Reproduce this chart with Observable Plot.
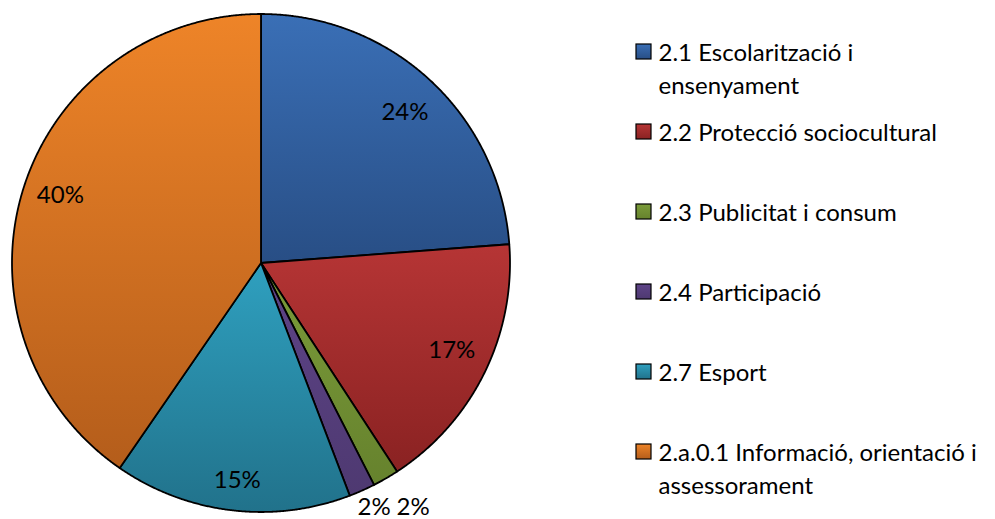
<!DOCTYPE html>
<html>
<head>
<meta charset="utf-8">
<script src="https://cdn.jsdelivr.net/npm/d3@7"></script>
<script src="https://cdn.jsdelivr.net/npm/@observablehq/plot@0.6"></script>
<style>
  body { margin: 0; background: #fff; }
  svg { display: block; }
</style>
</head>
<body>
<div id="chart"></div>
<script>
// ---- data ----
const categories = [
  "2.1 Escolarització i ensenyament",
  "2.2 Protecció sociocultural",
  "2.3 Publicitat i consum",
  "2.4 Participació",
  "2.7 Esport",
  "2.a.0.1 Informació, orientació i assessorament"
];
const values = [23.8, 17.0, 1.7, 1.7, 15.4, 40.4];

// ---- styles ----
const topColors    = ["#3a6fb6", "#b63535", "#7b9c3a", "#5e4488", "#2fa0bf", "#ee8428"];
const bottomColors = ["#284e85", "#8a2222", "#66822d", "#4e3971", "#21728b", "#b45d1b"];
const fontFamily = "Lato, 'Noto Sans', sans-serif";
const fontSize = 24;

// ---- layout ----
const W = 995, H = 519;
const cx = 260.5, cy = 262.5, R = 249;
const toX = p => (p - cx) / R;
const toY = p => (cy - p) / R;
// label placement: radius fraction and pixel nudges (layout only)
const labelRadius = [0.85, 0.85, 1.155, 1.09, 0.85, 0.85];
const labelNudge = [[0, 4.5], [1, -6], [8, -5], [3, -4], [1.5, 7.5], [1.5, -4.5]];

// ---- pie geometry (in data units, radius 1) ----
const total = d3.sum(values);
const arcs = d3.pie().sort(null).value(d => d)(values);
const step = Math.PI / 720;
const slices = arcs.map((a) => {
  const pts = [{x: 0, y: 0}];
  const n = Math.max(2, Math.ceil((a.endAngle - a.startAngle) / step));
  for (let k = 0; k <= n; k++) {
    const t = a.startAngle + (a.endAngle - a.startAngle) * k / n;
    pts.push({x: Math.sin(t), y: Math.cos(t)});
  }
  pts.push({x: 0, y: 0});
  return pts;
});

// percentage labels
const labels = arcs.map((a, i) => {
  const mid = (a.startAngle + a.endAngle) / 2;
  const pct = values[i] / total * 100;
  const r = labelRadius[i];
  return {
    x: r * Math.sin(mid) + labelNudge[i][0] / R,
    y: r * Math.cos(mid) - labelNudge[i][1] / R,
    text: Math.round(pct) + "%"
  };
});

// legend wrapping (measured)
const ctx = document.createElement("canvas").getContext("2d");
ctx.font = `${fontSize}px ${fontFamily}`;
const maxW = 13.8 * fontSize;
function wrap(s) {
  const words = s.split(" ");
  const lines = [];
  let cur = "";
  for (const w of words) {
    const t = cur ? cur + " " + w : w;
    if (cur && ctx.measureText(t).width > maxW) { lines.push(cur); cur = w; }
    else cur = t;
  }
  if (cur) lines.push(cur);
  return lines;
}
const rowBase = i => 60 + 80 * i;
const legendRows = categories.map((c, i) => ({
  i,
  x1: toX(636), x2: toX(651),
  y1: toY(rowBase(i) - 16), y2: toY(rowBase(i) - 1)
}));
const legendLines = categories.flatMap((c, i) =>
  wrap(c).map((line, j) => ({text: line, x: toX(658), y: toY(rowBase(i) + 33 * j)}))
);

const plot = Plot.plot({
  width: W,
  height: H,
  margin: 0,
  x: {domain: [-1, 1], range: [cx - R, cx + R], axis: null},
  y: {domain: [-1, 1], range: [cy + R, cy - R], axis: null},
  style: {fontFamily, background: "#fff", color: "#000"},
  marks: [
    ...slices.map((pts, i) => Plot.line(pts, {
      x: "x", y: "y",
      fill: `url(#g${i})`,
      stroke: "#000",
      strokeWidth: 1.8,
      strokeLinejoin: "round"
    })),
    Plot.text(labels, {
      x: "x", y: "y", text: "text",
      fontSize, fill: "#000", textAnchor: "middle", lineAnchor: "middle"
    }),
    Plot.rect(legendRows, {
      x1: "x1", x2: "x2", y1: "y1", y2: "y2",
      fill: d => `url(#g${d.i})`,
      stroke: "#000", strokeWidth: 1.2
    }),
    Plot.text(legendLines, {
      x: "x", y: "y", text: "text",
      fontSize, fill: "#000", textAnchor: "start", lineAnchor: "bottom"
    })
  ]
});

const svg = d3.select(plot);
const defs = svg.insert("defs", ":first-child");
topColors.forEach((c, i) => {
  const g = defs.append("linearGradient")
    .attr("id", "g" + i)
    .attr("x1", 0).attr("y1", 0).attr("x2", 0).attr("y2", 1);
  g.append("stop").attr("offset", 0).attr("stop-color", c);
  g.append("stop").attr("offset", 1).attr("stop-color", bottomColors[i]);
});

document.getElementById("chart").appendChild(plot);
</script>
</body>
</html>
